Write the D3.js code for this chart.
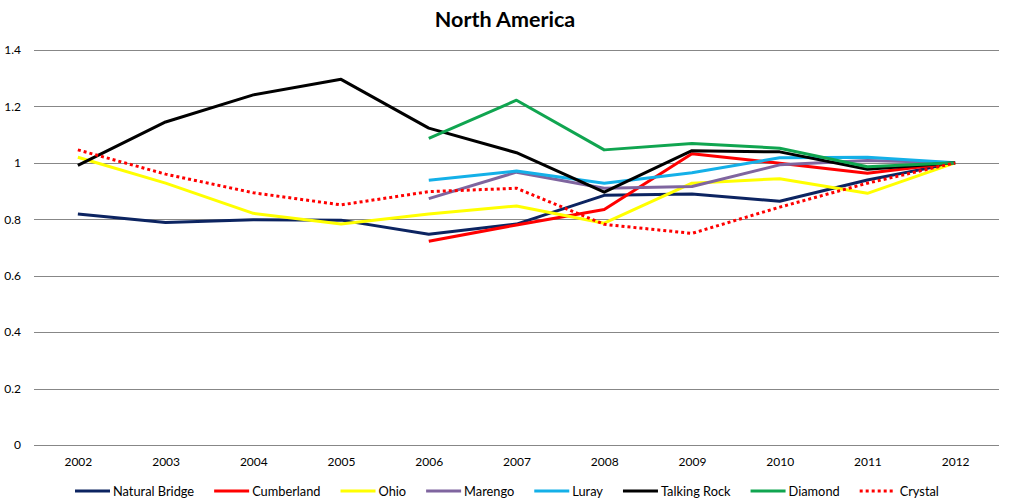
<!DOCTYPE html>
<html><head><meta charset="utf-8">
<script src="https://cdn.jsdelivr.net/npm/d3@7"></script>
<style>body{margin:0;background:#fff;} svg{display:block;font-family:Lato,"Open Sans",sans-serif;}</style>
</head><body>
<svg id="c" width="1010" height="503"></svg>
<script>
const years = ["2002","2003","2004","2005","2006","2007","2008","2009","2010","2011","2012"];
const yTicks = [0,0.2,0.4,0.6,0.8,1,1.2,1.4];
const naturalBridge = [0.819,0.789,0.798,0.797,0.747,0.783,0.885,0.890,0.864,0.939,1.0];
const cumberland    = [null,null,null,null,0.722,0.780,0.835,1.032,0.999,0.963,1.0];
const ohio          = [1.020,0.928,0.821,0.783,0.819,0.847,0.786,0.928,0.944,0.892,1.0];
const marengo       = [null,null,null,null,0.873,0.967,0.910,0.916,0.993,1.008,1.0];
const luray         = [null,null,null,null,0.938,0.971,0.928,0.965,1.018,1.020,1.0];
const talkingRock   = [0.991,1.145,1.241,1.296,1.123,1.036,0.896,1.043,1.039,0.977,1.0];
const diamond       = [null,null,null,null,1.087,1.222,1.046,1.069,1.052,0.986,1.0];
const crystal       = [1.046,0.960,0.894,0.851,0.898,0.910,0.782,0.750,0.843,0.928,1.0];
const seriesNames = ["Natural Bridge","Cumberland","Ohio","Marengo","Luray","Talking Rock","Diamond","Crystal"];
const seriesValues = [naturalBridge,cumberland,ohio,marengo,luray,talkingRock,diamond,crystal];
const seriesColors = ["#0c2461","#ff0000","#ffff00","#7f659f","#14b0e8","#000000","#10a550","#ff0000"];
const seriesDashed = [false,false,false,false,false,false,false,true];

(function(){
const svg = d3.select("#c");
const pl = 34, pr = 999, pt = 50, pb = 445;
const x = d3.scalePoint().domain(years).range([pl, pr]).padding(0.5);
const y = d3.scaleLinear().domain([0,1.4]).range([pb, pt]);

svg.append("text").attr("x", 505).attr("y", 27).attr("text-anchor","middle")
  .attr("font-size", 21.5).attr("font-weight", "bold").attr("fill","#000").text("North America");

svg.append("g").selectAll("line").data(yTicks).join("line")
  .attr("x1", pl).attr("x2", pr)
  .attr("y1", d => Math.round(y(d))+0.5).attr("y2", d => Math.round(y(d))+0.5)
  .attr("stroke", "#878787").attr("stroke-width", 1);

const yAxis = d3.axisLeft(y).tickValues(yTicks).tickSize(0).tickPadding(0).tickFormat(d3.format("~g"));
const gy = svg.append("g").attr("transform", `translate(21,0)`).call(yAxis);
gy.select(".domain").remove();
gy.selectAll("text").attr("font-size", 12).attr("fill", "#000").attr("font-family","Lato,sans-serif");

const xAxis = d3.axisBottom(x).tickSize(0).tickPadding(0);
const gx = svg.append("g").attr("transform", `translate(0,${pb+12})`).call(xAxis);
gx.select(".domain").remove();
gx.selectAll("text").attr("font-size", 12).attr("fill", "#000").attr("font-family","Lato,sans-serif");

const line = d3.line().defined(d => d.v != null).x(d => x(d.yr)).y(d => y(d.v));
seriesValues.forEach((vals, i) => {
  const data = years.map((yr, j) => ({yr, v: vals[j]}));
  svg.append("path").datum(data).attr("d", line)
    .attr("fill","none").attr("stroke", seriesColors[i]).attr("stroke-width", 3)
    .attr("stroke-linejoin","round")
    .attr("stroke-dasharray", seriesDashed[i] ? "3,3" : null);
});

const lg = svg.append("g");
let cx = 0;
seriesNames.forEach((name, i) => {
  const g = lg.append("g").attr("transform", `translate(${cx},0)`);
  g.append("line").attr("x1", 0).attr("x2", 35).attr("y1", 0).attr("y2", 0)
    .attr("stroke", seriesColors[i]).attr("stroke-width", 3)
    .attr("stroke-dasharray", seriesDashed[i] ? "3,3" : null);
  const tx = seriesDashed[i] ? 40 : 38;
  const t = g.append("text").attr("x", tx).attr("y", 4.5).attr("font-size", 12.8)
    .attr("fill", "#000").text(name);
  const w = t.node().getComputedTextLength();
  cx += tx + w + 20;
});
const totalW = cx - 20;
lg.attr("transform", `translate(${Math.round(507 - totalW/2)},491)`);
})();
</script>
</body></html>
